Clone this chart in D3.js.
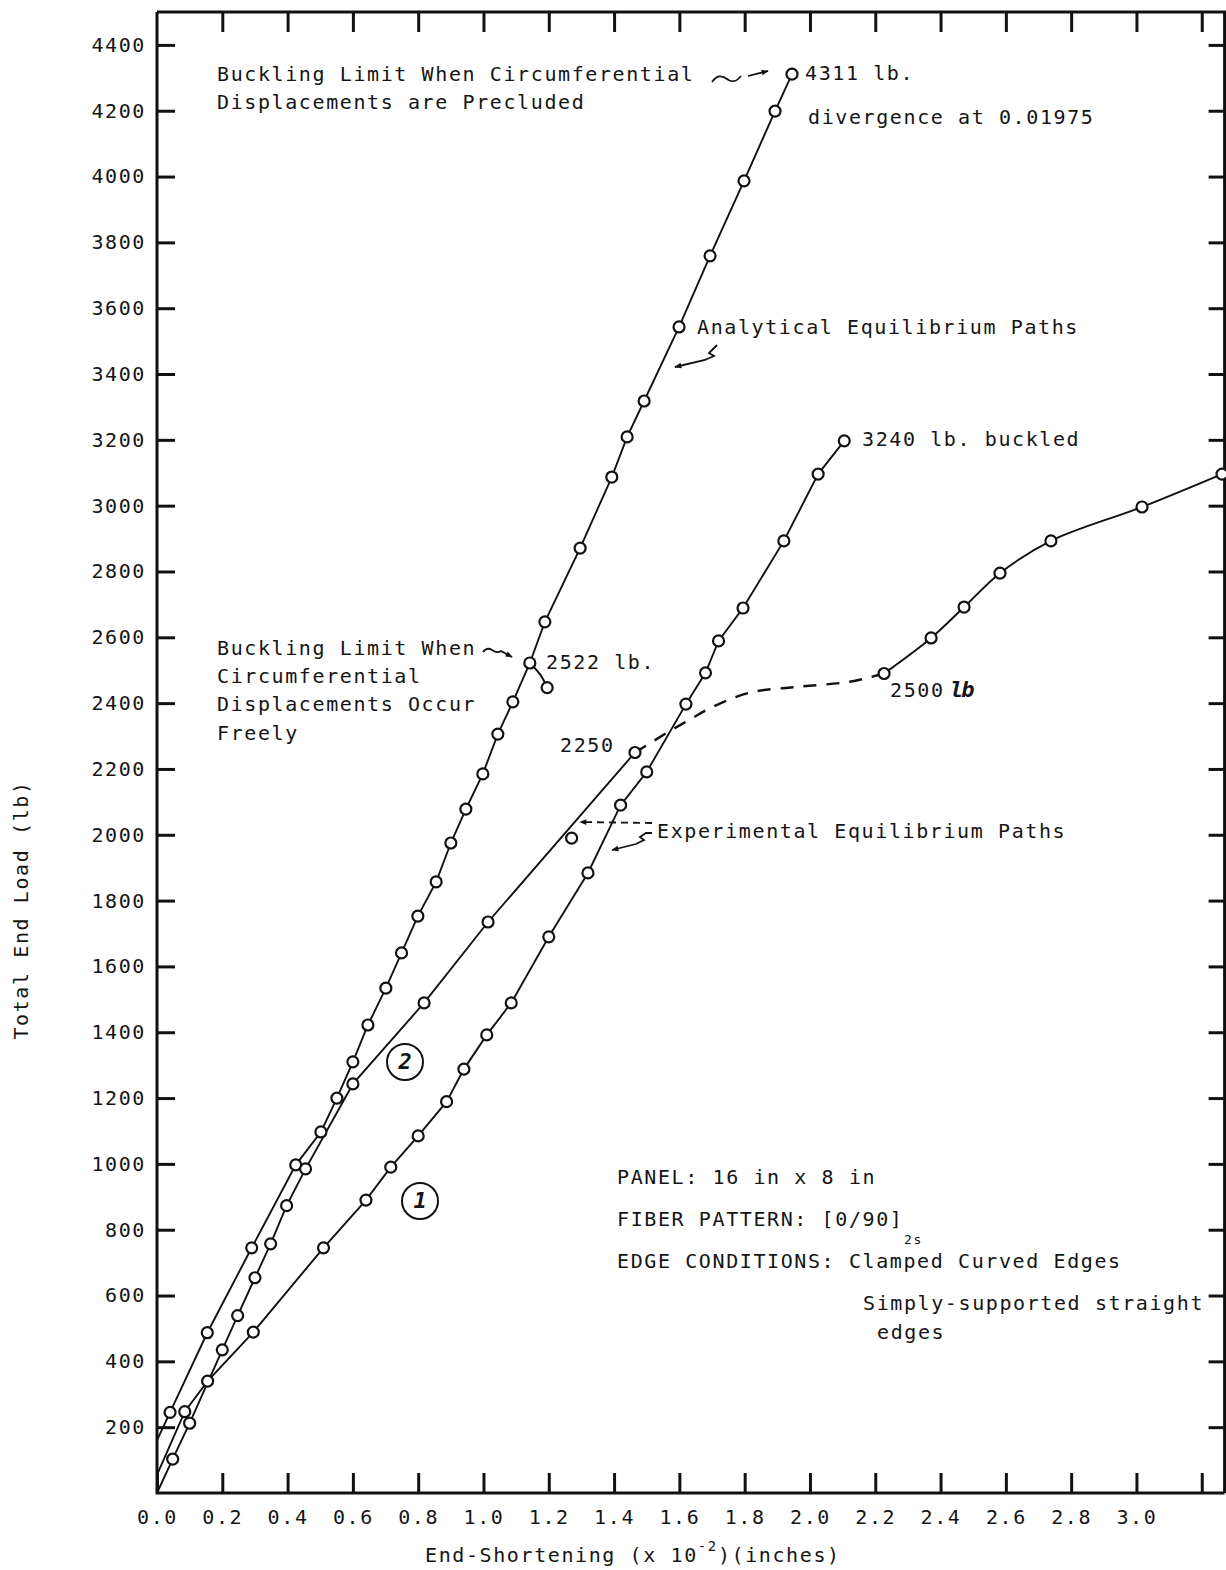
<!DOCTYPE html>
<html><head><meta charset="utf-8">
<script src="https://cdn.jsdelivr.net/npm/d3@7"></script>
<style>
html,body{margin:0;padding:0;background:#fff;}
svg{display:block;}
text{font-family:"DejaVu Sans Mono",monospace;fill:#151515;}
</style></head><body>
<svg id="chart" width="1226" height="1570"></svg>
<script>
// ---------------- data (end-shortening x10^-2 in, total end load lb) ----------------
const xTickValues = [0,0.2,0.4,0.6,0.8,1.0,1.2,1.4,1.6,1.8,2.0,2.2,2.4,2.6,2.8,3.0,3.2];
const xTickLabels = ["0.0","0.2","0.4","0.6","0.8","1.0","1.2","1.4","1.6","1.8","2.0","2.2","2.4","2.6","2.8","3.0",""];
const yTickValues = [200,400,600,800,1000,1200,1400,1600,1800,2000,2200,2400,2600,2800,3000,3200,3400,3600,3800,4000,4200,4400];

// analytical equilibrium path (precluded circumferential displacements -> 4311 lb)
const analyticalStart = [0,160];
const analyticalPath = [[0.04,245],[0.154,487],[0.29,745],[0.425,997],[0.502,1097],[0.551,1200],[0.60,1310],[0.646,1422],[0.701,1534],[0.749,1641],[0.799,1753],[0.855,1857],[0.90,1975],[0.946,2078],[0.998,2185],[1.044,2306],[1.09,2404],[1.142,2522],[1.188,2647],[1.296,2871],[1.393,3087],[1.44,3209],[1.492,3318],[1.599,3543],[1.694,3759],[1.798,3987],[1.893,4199],[1.945,4311]];
// branch at 2522 lb (circumferential displacements occur freely)
const freeBranch = [[1.142,2522],[1.175,2485],[1.195,2447]];

// experimental path 1 (-> 3240 lb buckled)
const curve1Start = [0,55];
const curve1 = [[0.085,247],[0.155,340],[0.295,489],[0.51,745],[0.64,890],[0.716,990],[0.80,1085],[0.887,1189],[0.94,1288],[1.01,1392],[1.085,1489],[1.20,1690],[1.32,1884],[1.42,2090],[1.50,2191],[1.62,2397],[1.68,2492],[1.72,2589],[1.795,2689],[1.92,2893],[2.025,3096],[2.105,3197]];

// experimental path 2
const curve2Start = [0,0];
const curve2 = [[0.048,103],[0.10,212],[0.20,435],[0.247,539],[0.30,654],[0.348,757],[0.397,873],[0.455,985],[0.60,1243],[0.818,1489],[1.014,1735],[1.464,2250]];
const curve2Transition = [[1.464,2250],[1.562,2310],[1.632,2350],[1.703,2389],[1.816,2432],[1.969,2450],[2.122,2465],[2.227,2490]];
const curve2Post = [[2.227,2490],[2.371,2598],[2.472,2692],[2.582,2795],[2.738,2893],[3.017,2996],[3.262,3096]];
const isolatedPoints = [[1.27,1990]];

// ---------------- drawing ----------------
const svg = d3.select('#chart');
const x = d3.scaleLinear().domain([0,3.27]).range([157,1224.6]);
const y = d3.scaleLinear().domain([0,4500]).range([1493,12]);
const FS = 20, LS = 1.6;

function styleAxis(g){
  g.select('.domain').remove();
  g.selectAll('.tick line').attr('stroke','#111').attr('stroke-width',3);
  g.selectAll('.tick text').attr('font-family','"DejaVu Sans Mono",monospace')
    .attr('font-size',FS).attr('letter-spacing',LS).attr('fill','#151515');
}
svg.append('g').attr('transform',`translate(${x(0)},0)`)
  .call(d3.axisLeft(y).tickValues(yTickValues).tickSizeInner(-18).tickSizeOuter(0).tickPadding(11).tickFormat(d3.format('d')))
  .call(styleAxis);
svg.append('g').attr('transform',`translate(${x(3.27)},0)`)
  .call(d3.axisRight(y).tickValues(yTickValues).tickSizeInner(-16).tickSizeOuter(0).tickFormat(''))
  .call(styleAxis);
svg.append('g').attr('transform',`translate(0,${y(4500)})`)
  .call(d3.axisTop(x).tickValues(xTickValues.slice(1)).tickSizeInner(-20).tickSizeOuter(0).tickFormat(''))
  .call(styleAxis);
svg.append('g').attr('transform',`translate(0,${y(0)})`)
  .call(d3.axisBottom(x).tickValues(xTickValues).tickSizeInner(-20).tickSizeOuter(0).tickPadding(17)
    .tickFormat((d,i)=>xTickLabels[i]))
  .call(styleAxis);

// frame
const frame = svg.append('g').attr('stroke','#111').attr('stroke-width',3).attr('fill','none');
frame.append('path').attr('d',`M${x(0)},${y(4500)}V${y(0)}H${x(3.27)}`);
frame.append('path').attr('d',`M${x(0)},${y(4500)}H${x(3.27)}V${y(0)}`);

const lin = d3.line().x(d=>x(d[0])).y(d=>y(d[1]));
const smooth = d3.line().x(d=>x(d[0])).y(d=>y(d[1])).curve(d3.curveCatmullRom.alpha(0.5));
const lines = svg.append('g').attr('fill','none').attr('stroke','#111').attr('stroke-width',1.9);
lines.append('path').attr('d',lin([analyticalStart,...analyticalPath]));
lines.append('path').attr('d',smooth(freeBranch));
lines.append('path').attr('d',lin([curve1Start,...curve1]));
lines.append('path').attr('d',lin([curve2Start,...curve2]));
lines.append('path').attr('d',smooth(curve2Transition)).attr('stroke-dasharray','13,10').attr('stroke-width',2.4);
lines.append('path').attr('d',smooth(curve2Post));

const markerPts = [...analyticalPath, freeBranch[2], ...curve1, ...curve2, ...curve2Post, ...isolatedPoints];
svg.append('g').selectAll('circle').data(markerPts).join('circle')
  .attr('cx',d=>x(d[0])).attr('cy',d=>y(d[1])).attr('r',5.5)
  .attr('fill','#fff').attr('stroke','#111').attr('stroke-width',2.2);

// ---------------- annotations ----------------
const defs = svg.append('defs');
defs.append('marker').attr('id','ah').attr('viewBox','0 0 10 10').attr('refX',9).attr('refY',5)
  .attr('markerWidth',9).attr('markerHeight',7).attr('orient','auto').attr('markerUnits','userSpaceOnUse')
  .append('path').attr('d','M0,1L10,5L0,9Z').attr('fill','#111');

const ann = svg.append('g').attr('font-size',FS).attr('letter-spacing',LS);
function t(str,px,py,opts={}){
  const el = ann.append('text').attr('x',px).attr('y',py).attr('dominant-baseline','middle').text(str);
  if(opts.anchor) el.attr('text-anchor',opts.anchor);
  if(opts.size) el.attr('font-size',opts.size);
  return el;
}
t('Buckling Limit When Circumferential',217,75);
t('Displacements are Precluded',217,103);
t('4311 lb.',805,74);
t('divergence at 0.01975',808,118);
t('Analytical Equilibrium Paths',697,328);
t('3240 lb. buckled',862,440);
t('Buckling Limit When',217,649);
t('Circumferential',217,677);
t('Displacements Occur',217,705);
t('Freely',217,734);
t('2522 lb.',546,663);
t('2250',560,746);
t('2500',890,691);
ann.append('text').attr('x',950).attr('y',691).attr('dominant-baseline','middle')
  .attr('font-family','"DejaVu Serif",serif').attr('font-style','italic').attr('font-weight','bold')
  .attr('letter-spacing',-2).attr('font-size',22).text('lb');
t('Experimental Equilibrium Paths',657,832);
t('PANEL:  16 in x 8 in',617,1178);
t('FIBER PATTERN:  [0/90]',617,1220);
t('2s',904,1240,{size:13});
t('EDGE CONDITIONS:  Clamped Curved Edges',617,1262);
t('Simply-supported straight',863,1304);
t('edges',877,1333);

// arrows / leaders
const ar = svg.append('g').attr('fill','none').attr('stroke','#111').attr('stroke-width',1.8);
ar.append('path').attr('d','M712,82 c5,-7 10,-7 15,-3 s9,3 14,-3 M748,76 L768,71').attr('marker-end','url(#ah)');
ar.append('path').attr('d','M717,345 l-8,8 l5,3 l-9,4 L675,367').attr('marker-end','url(#ah)');
ar.append('path').attr('d','M483,652 c3,-4 6,-4 9,-2 s6,3 9,1 L512,657').attr('marker-end','url(#ah)');
ar.append('path').attr('d','M652,823 L580,822').attr('stroke-dasharray','7,5').attr('marker-end','url(#ah)');
ar.append('path').attr('d','M652,833 l-6,0 l-6,4 l4,3 l-8,4 L612,850').attr('marker-end','url(#ah)');

// circled curve numbers
const cn = svg.append('g');
[[405,1062,'2'],[420,1201,'1']].forEach(([cx,cy,s])=>{
  cn.append('circle').attr('cx',cx).attr('cy',cy).attr('r',18).attr('fill','none').attr('stroke','#111').attr('stroke-width',2);
  cn.append('text').attr('x',cx).attr('y',cy+1).attr('text-anchor','middle').attr('dominant-baseline','middle')
    .attr('font-family','"DejaVu Serif",serif').attr('font-weight','bold').attr('font-style','italic').attr('font-size',22).text(s);
});

// axis titles
svg.append('text').attr('transform','translate(22,910) rotate(-90)').attr('text-anchor','middle')
  .attr('dominant-baseline','middle').attr('font-size',FS).attr('letter-spacing',LS).text('Total End Load (lb)');
const xt = svg.append('text').attr('x',425).attr('y',1556).attr('dominant-baseline','middle')
  .attr('font-size',FS).attr('letter-spacing',LS);
xt.append('tspan').text('End-Shortening (x 10');
xt.append('tspan').attr('font-size',14).attr('dy',-9).text('-2');
xt.append('tspan').attr('dy',9).text(')(inches)');
</script>
</body></html>
